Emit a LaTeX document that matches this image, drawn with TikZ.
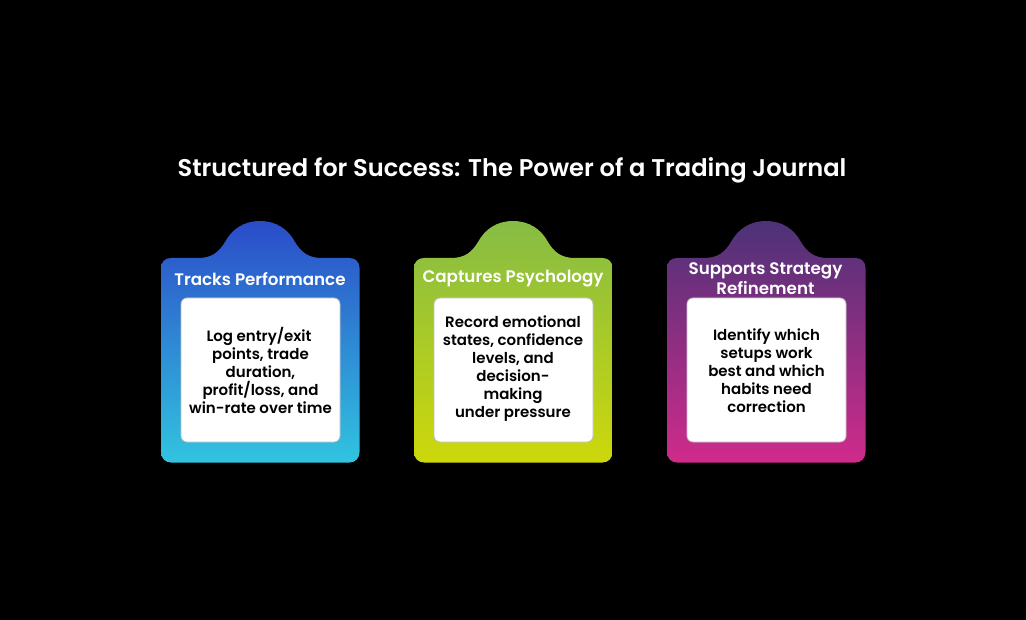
\documentclass[tikz,border=0pt]{standalone}
\usepackage{fontspec}
\setmainfont{Poppins Medium}[BoldFont={Poppins SemiBold}]
\definecolor{blueTop}{HTML}{2B4CC8}
\definecolor{blueBot}{HTML}{31C4E0}
\definecolor{greenTop}{HTML}{86BC45}
\definecolor{greenBot}{HTML}{CDD80A}
\definecolor{purpleTop}{HTML}{4C3278}
\definecolor{purpleBot}{HTML}{D02B8B}
\newcommand{\cardoutline}[1]{
    \path[shade, shading angle=0, #1]
        (171, 258) -- (198, 258)
        .. controls (212, 258) and (219, 252) .. (225, 242)
        .. controls (232, 229) and (244, 221) .. (260, 221)
        .. controls (276, 221) and (288, 229) .. (295, 242)
        .. controls (301, 252) and (308, 258) .. (322, 258)
        -- (349.5, 258) .. controls (355.5, 258) and (359.5, 262) .. (359.5, 268)
        -- (359.5, 452) .. controls (359.5, 458) and (355.5, 462.5) .. (349.5, 462.5)
        -- (171, 462.5) .. controls (165, 462.5) and (161, 458) .. (161, 452)
        -- (161, 268) .. controls (161, 262) and (165, 258) .. (171, 258) -- cycle;
}
\tikzset{
    heading/.style={text=white, font=\bfseries\fontsize{16.7}{20}\selectfont, align=center},
    textbox/.style={fill=white, draw=black!25, line width=0.8pt, rounded corners=6pt,
        minimum width=159pt, minimum height=144pt, inner sep=0pt},
    bodytext/.style={text=black, font=\bfseries\fontsize{15}{18}\selectfont, align=center}
}
\begin{document}
\begin{tikzpicture}[x=1pt, y=-1pt]
    \fill[black] (0, 0) rectangle (1026, 620);
    \useasboundingbox (0, 0) rectangle (1026, 620);

    \node[text=white, font=\bfseries\fontsize{24.15}{28}\selectfont] (title) at (512, 170)
        {Structured for Success: The Power of a Trading Journal};

    % first card
    \cardoutline{top color=blueTop, bottom color=blueBot}
    \node[heading] (tracksHead) at (260, 279) {Tracks Performance};
    \node[textbox] (tracksBox) at (260.5, 370) {};
    \node[bodytext] (tracksText) at (260.5, 370)
        {Log entry/exit\hspace*{3pt}\\points, trade\hspace*{3pt}\\duration,\hspace*{3pt}\\profit/loss, and\hspace*{3pt}\\win-rate over time};

    % second card
    \begin{scope}[xshift=253pt]
        \cardoutline{top color=greenTop, bottom color=greenBot}
        \node[heading] (psychHead) at (260, 279) {Captures Psychology};
        \node[textbox] (psychBox) at (260.5, 370) {};
        \node[bodytext] (psychText) at (260, 369)
            {Record emotional\\states, confidence\\levels, and\\decision-\\making\\under pressure};
    \end{scope}

    % third card
    \begin{scope}[xshift=506pt]
        \cardoutline{top color=purpleTop, bottom color=purpleBot}
        \node[heading] (strategyHead) at (259.5, 278.5) {Supports Strategy\\Refinement};
        \node[textbox] (strategyBox) at (260.5, 370) {};
        \node[bodytext] (strategyText) at (260.5, 371)
            {Identify which\\setups work\\best and which\\habits need\\correction};
    \end{scope}
\end{tikzpicture}
\end{document}
